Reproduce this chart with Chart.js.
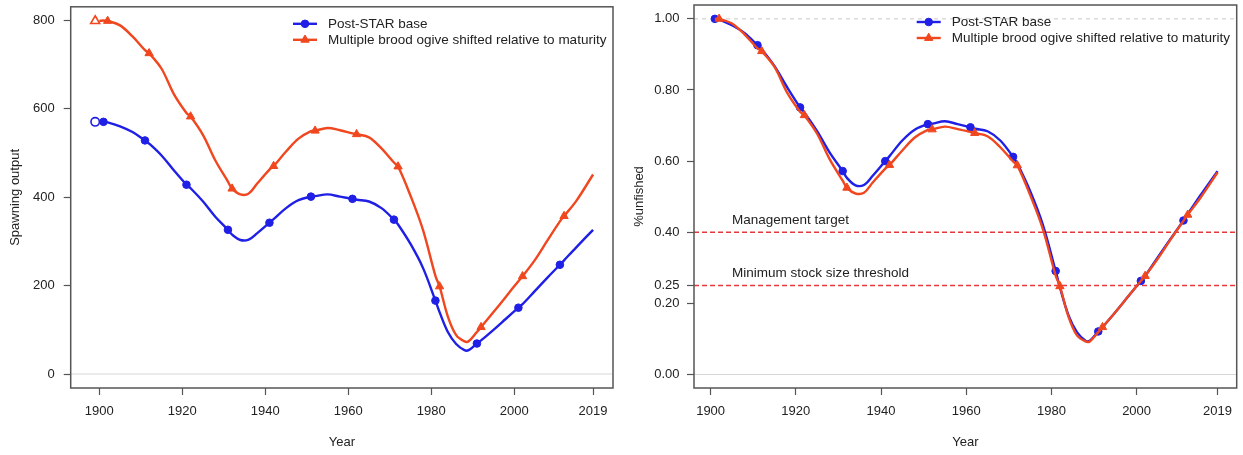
<!DOCTYPE html>
<html>
<head>
<meta charset="utf-8">
<title>Spawning output and fraction unfished</title>
<script src="https://cdn.jsdelivr.net/npm/chart.js@4.4.1/dist/chart.umd.min.js"></script>
<style>
    html, body { margin: 0; padding: 0; background: #fff; }
    #wrap { position: relative; width: 1243px; height: 455px; overflow: hidden; }
    #wrap canvas { position: absolute; top: 0; }
    #spawning { left: 0; }
    #unfished { left: 620px; }
</style>
</head>
<body>
<div id="wrap">
    <canvas id="spawning" width="620" height="455"></canvas>
    <canvas id="unfished" width="623" height="455"></canvas>
</div>
<script>
var years = [1900, 1901, 1902, 1905, 1908, 1911, 1912, 1915, 1918, 1921, 1922, 1925, 1928,
    1931, 1932, 1934, 1936, 1938, 1941, 1942, 1945, 1948, 1951, 1952, 1955, 1958, 1961, 1962,
    1965, 1968, 1971, 1972, 1975, 1978, 1981, 1982, 1984, 1986, 1988, 1989, 1991, 1992, 1995,
    1998, 2001, 2002, 2005, 2008, 2011, 2012, 2015, 2019];

// spawning output
var baseSpawn = [570, 570, 569, 560, 547, 528, 521, 494, 460, 428, 420, 390, 355,
    326, 315, 303, 304, 318, 342, 350, 375, 393, 401, 402, 406, 401, 396, 394,
    390, 375, 349, 338, 294, 240, 166, 140, 95, 68, 54, 54, 69, 76, 100,
    125, 150, 158, 188, 218, 247, 257, 287, 326];
var broodSpawn = [798, 799, 798, 788, 763, 732, 725, 690, 632, 590, 582, 540, 482,
    435, 419, 406, 408, 430, 462, 470, 503, 532, 549, 550, 556, 551, 544, 542,
    535, 510, 478, 469, 403, 326, 222, 198, 130, 88, 74, 74, 95, 106, 140,
    175, 210, 221, 258, 302, 345, 357, 392, 451];
var virginYear = 1899;
var baseVirgin = 570;
var broodVirgin = 798;

// fraction unfished
var baseFrac = [null, 1.000, 0.998, 0.982, 0.960, 0.926, 0.914, 0.867, 0.807, 0.751, 0.737, 0.684, 0.623,
    0.572, 0.553, 0.532, 0.533, 0.558, 0.600, 0.614, 0.658, 0.689, 0.704, 0.705, 0.712, 0.704, 0.695, 0.691,
    0.684, 0.658, 0.612, 0.593, 0.516, 0.421, 0.291, 0.245, 0.167, 0.119, 0.095, 0.095, 0.121, 0.133, 0.175,
    0.219, 0.263, 0.277, 0.330, 0.382, 0.433, 0.451, 0.504, 0.572];
var broodFrac = [null, 1.000, 1.000, 0.987, 0.956, 0.917, 0.909, 0.865, 0.792, 0.739, 0.729, 0.677, 0.604,
    0.545, 0.525, 0.509, 0.511, 0.539, 0.579, 0.589, 0.630, 0.667, 0.688, 0.689, 0.697, 0.690, 0.682, 0.679,
    0.670, 0.639, 0.599, 0.588, 0.505, 0.409, 0.278, 0.248, 0.163, 0.110, 0.093, 0.093, 0.119, 0.133, 0.175,
    0.219, 0.263, 0.277, 0.326, 0.380, 0.432, 0.449, 0.497, 0.568];

var xTicks = [1900, 1920, 1940, 1960, 1980, 2000, 2019];
var spawnTicks = [0, 200, 400, 600, 800];
var fracTicks = [0, 0.2, 0.25, 0.4, 0.6, 0.8, 1];
var seriesNames = ['Post-STAR base', 'Multiple brood ogive shifted relative to maturity'];
var refValues = [0.4, 0.25];
var refLabels = ['Management target', 'Minimum stock size threshold'];

var BLUE = '#1f1fe6';
var RED = '#f0471f';
var INK = '#222';
var AXIS = '#555';
var FAMILY = '"Liberation Sans", Arial, Helvetica, sans-serif';

function toPoints(values) {
    var out = [];
    years.forEach(function (year, i) {
        if (values[i] !== null)
            out.push({x: year, y: values[i]});
    });
    return out;
}

// markers every ten years, blue from 1901, red from 1902
function markerRadius(firstYear, size) {
    return function (ctx) {
        if (!ctx.raw)
            return 0;
        return (ctx.raw.x - firstYear) % 10 === 0 ? size : 0;
    };
}

function seriesDataset(values, color, style, firstYear, size, order) {
    return {
        data: toPoints(values),
        borderColor: color,
        backgroundColor: color,
        borderWidth: 2.4,
        tension: 0.35,
        pointStyle: style,
        pointRadius: markerRadius(firstYear, size),
        pointBorderWidth: 1,
        pointBorderColor: color,
        pointBackgroundColor: color,
        order: order
    };
}

function hLine(value, xMin, xMax, color, dash, width) {
    return {
        data: [{x: xMin, y: value}, {x: xMax, y: value}],
        borderColor: color,
        borderWidth: width,
        borderDash: dash,
        pointRadius: 0,
        order: 10
    };
}

var framePlugin = {
    id: 'frame',
    afterDraw: function (chart) {
        var a = chart.chartArea;
        var c = chart.ctx;
        c.save();
        c.strokeStyle = AXIS;
        c.lineWidth = 1.5;
        c.strokeRect(a.left, a.top, a.right - a.left, a.bottom - a.top);
        c.restore();
    }
};

var keyPlugin = {
    id: 'key',
    afterDraw: function (chart) {
        var a = chart.chartArea;
        var c = chart.ctx;
        var colors = [BLUE, RED];
        var styles = ['circle', 'triangle'];
        var sizes = [3.8, 4.8];
        seriesNames.forEach(function (name, i) {
            var y = a.top + 17 + i * 16;
            var x0 = a.right - 320;
            var x1 = a.right - 296;
            c.save();
            c.strokeStyle = colors[i];
            c.fillStyle = colors[i];
            c.lineWidth = 2.4;
            c.beginPath();
            c.moveTo(x0, y);
            c.lineTo(x1, y);
            c.stroke();
            c.lineWidth = 1;
            Chart.helpers.drawPoint(c, {pointStyle: styles[i], radius: sizes[i], borderWidth: 1, rotation: 0}, (x0 + x1) / 2, y);
            c.fillStyle = INK;
            c.font = '13.5px ' + FAMILY;
            c.textBaseline = 'middle';
            c.textAlign = 'left';
            c.fillText(name, a.right - 285, y);
            c.restore();
        });
    }
};

var refLabelPlugin = {
    id: 'refLabels',
    afterDatasetsDraw: function (chart) {
        var c = chart.ctx;
        var xs = chart.scales.x;
        var ys = chart.scales.y;
        c.save();
        c.fillStyle = INK;
        c.font = '13.5px ' + FAMILY;
        c.textBaseline = 'middle';
        c.textAlign = 'left';
        refValues.forEach(function (value, i) {
            c.fillText(refLabels[i], xs.getPixelForValue(1905), ys.getPixelForValue(value) - 12);
        });
        c.restore();
    }
};

function makeChart(canvasId, cfg) {
    var font = {family: FAMILY, size: 13};
    return new Chart(document.getElementById(canvasId), {
        type: 'line',
        data: {datasets: cfg.datasets},
        options: {
            responsive: false,
            animation: false,
            devicePixelRatio: 1,
            layout: {padding: {left: 0, top: 5, right: cfg.padRight, bottom: 0}},
            plugins: {legend: {display: false}, tooltip: {enabled: false}},
            scales: {
                x: {
                    type: 'linear',
                    min: cfg.xMin,
                    max: cfg.xMax,
                    afterBuildTicks: function (scale) {
                        scale.ticks = xTicks.map(function (v) { return {value: v}; });
                    },
                    afterFit: function (scale) {
                        scale.height = 67;
                        scale.paddingLeft = 0;
                        scale.paddingRight = 0;
                    },
                    border: {display: false},
                    grid: {drawOnChartArea: false, tickLength: 7, tickColor: AXIS, tickWidth: 1.2},
                    ticks: {
                        font: font, color: INK, padding: 9, maxRotation: 0, autoSkip: false,
                        callback: function (v) { return String(v); }
                    },
                    title: {display: true, text: 'Year', font: font, color: INK, padding: {top: 0, bottom: 5}}
                },
                y: {
                    type: 'linear',
                    min: cfg.yMin,
                    max: cfg.yMax,
                    afterBuildTicks: function (scale) {
                        scale.ticks = cfg.yTicks.map(function (v) { return {value: v}; });
                    },
                    afterFit: function (scale) {
                        scale.width = cfg.yWidth;
                        scale.paddingTop = 0;
                        scale.paddingBottom = 0;
                    },
                    border: {display: false},
                    grid: {drawOnChartArea: false, tickLength: 7, tickColor: AXIS, tickWidth: 1.2},
                    ticks: {font: font, color: INK, padding: cfg.yPad, autoSkip: false, callback: cfg.yFormat},
                    title: {display: true, text: cfg.yTitle, font: font, color: INK, padding: {top: cfg.titlePad, bottom: 0}}
                }
            }
        },
        plugins: [framePlugin, keyPlugin].concat(cfg.extraPlugins || [])
    });
}

document.addEventListener('DOMContentLoaded', function () {
    var leftX = [1893.1, 2023.8];
    makeChart('spawning', {
        xMin: leftX[0], xMax: leftX[1],
        yMin: -31.5, yMax: 830,
        yTicks: spawnTicks,
        yWidth: 70.7, yPad: 9, padRight: 7, titlePad: 8,
        yTitle: 'Spawning output',
        yFormat: function (v) { return String(v); },
        datasets: [
            hLine(0, leftX[0], leftX[1], '#d6d6d6', [], 1),
            seriesDataset(baseSpawn, BLUE, 'circle', 1901, 3.8, 2),
            seriesDataset(broodSpawn, RED, 'triangle', 1902, 4.8, 1),
            {
                data: [{x: virginYear, y: baseVirgin}],
                showLine: false, pointStyle: 'circle', pointRadius: 4.2,
                pointBorderColor: BLUE, pointBackgroundColor: '#fff', pointBorderWidth: 1.6, order: 3
            },
            {
                data: [{x: virginYear, y: broodVirgin}],
                showLine: false, pointStyle: 'triangle', pointRadius: 5.2,
                pointBorderColor: RED, pointBackgroundColor: '#fff', pointBorderWidth: 1.6, order: 3
            }
        ]
    });

    var rightX = [1896.1, 2023.5];
    makeChart('unfished', {
        xMin: rightX[0], xMax: rightX[1],
        yMin: -0.038, yMax: 1.039,
        yTicks: fracTicks,
        yWidth: 74, yPad: 7.5, padRight: 6.3, titlePad: 11.5,
        yTitle: '%unfished',
        yFormat: function (v) { return Number(v).toFixed(2); },
        extraPlugins: [refLabelPlugin],
        datasets: [
            hLine(0, rightX[0], rightX[1], '#d6d6d6', [], 1),
            hLine(1, rightX[0], rightX[1], '#c8c8c8', [4, 4], 1),
            hLine(refValues[0], rightX[0], rightX[1], '#e63a3a', [5, 3], 1.5),
            hLine(refValues[1], rightX[0], rightX[1], '#e63a3a', [5, 3], 1.5),
            seriesDataset(baseFrac, BLUE, 'circle', 1901, 3.8, 2),
            seriesDataset(broodFrac, RED, 'triangle', 1902, 4.8, 1)
        ]
    });
});
</script>
</body>
</html>
